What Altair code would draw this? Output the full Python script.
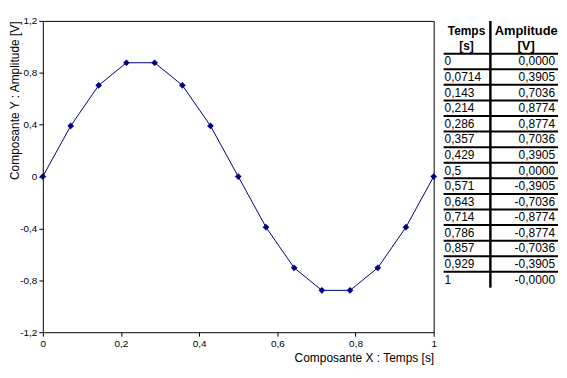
import altair as alt
import pandas as pd

# ---- data ----
times = [0, 0.0714, 0.143, 0.214, 0.286, 0.357, 0.429, 0.5,
         0.571, 0.643, 0.714, 0.786, 0.857, 0.929, 1]
amps = [0.0, 0.3905, 0.7036, 0.8774, 0.8774, 0.7036, 0.3905, 0.0,
        -0.3905, -0.7036, -0.8774, -0.8774, -0.7036, -0.3905, -0.0]
time_labels = ["0", "0,0714", "0,143", "0,214", "0,286", "0,357", "0,429", "0,5",
               "0,571", "0,643", "0,714", "0,786", "0,857", "0,929", "1"]
amp_labels = ["0,0000", "0,3905", "0,7036", "0,8774", "0,8774", "0,7036", "0,3905",
              "0,0000", "-0,3905", "-0,7036", "-0,8774", "-0,8774", "-0,7036",
              "-0,3905", "-0,0000"]
x_ticks = [0, 0.2, 0.4, 0.6, 0.8, 1]
y_ticks = [-1.2, -0.8, -0.4, 0, 0.4, 0.8, 1.2]
header_time = ["Temps", "[s]"]
header_amp = ["Amplitude", "[V]"]
header_pos = [-1.45, -0.5]

NAVY = "#000080"
FONT = "Liberation Sans"
LAB = "replace(replace(format(datum.value, '~g'), '.', ','), '\u2212', '-')"

df = pd.DataFrame({"t": times, "a": amps})

axis_common = dict(grid=False, domain=False, ticks=True, tickSize=4, tickColor="black",
                   labelFont=FONT, labelFontSize=10, labelColor="black", labelPadding=2,
                   labelFlush=False, labelExpr=LAB,
                   titleFont=FONT, titleFontSize=12, titleFontWeight="normal",
                   titleColor="black", titleAnchor="end")

xenc = alt.X("t:Q", scale=alt.Scale(domain=[0, 1], nice=False, zero=False),
             axis=alt.Axis(values=x_ticks, title="Composante X : Temps [s]",
                           titlePadding=4, **axis_common))
yenc = alt.Y("a:Q", scale=alt.Scale(domain=[-1.2, 1.2], nice=False, zero=False),
             axis=alt.Axis(values=y_ticks, title="Composante Y : Amplitude [V]",
                           titlePadding=-2, **axis_common))

base = alt.Chart(df).encode(x=xenc, y=yenc)
line = base.mark_line(color=NAVY, strokeWidth=1)
pts = base.mark_point(shape="diamond", filled=True, color=NAVY, opacity=1, size=45)
plot = alt.layer(line, pts).properties(
    width=393, height=313,
    view=alt.ViewBackground(stroke="black", strokeWidth=1))

# ---- table ----
rows = list(range(len(time_labels)))
tdf = pd.DataFrame({"row": rows, "time": time_labels, "amp": amp_labels})
hdf = pd.DataFrame({"pos": header_pos, "time": header_time, "amp": header_amp})
yscale = alt.Scale(domain=[-2.1, 15], reverse=True, nice=False, zero=False)
TH = 268
TW = 116

tbase = alt.Chart(tdf).transform_calculate(mid="datum.row + 0.5")
t_time = tbase.mark_text(align="left", baseline="middle", font=FONT, fontSize=12,
                         color="black").encode(
    x=alt.value(2), y=alt.Y("mid:Q", scale=yscale, axis=None), text="time:N")
t_amp = tbase.mark_text(align="right", baseline="middle", font=FONT, fontSize=12,
                        color="black").encode(
    x=alt.value(113), y=alt.Y("mid:Q", scale=yscale, axis=None), text="amp:N")
t_rules = alt.Chart(tdf).mark_rule(color="black", strokeWidth=2).encode(
    y=alt.Y("row:Q", scale=yscale, axis=None), x=alt.value(1), x2=alt.value(TW))
h_time = alt.Chart(hdf).mark_text(align="center", baseline="middle", font=FONT,
                                  fontSize=12, fontWeight="bold", color="black").encode(
    x=alt.value(24), y=alt.Y("pos:Q", scale=yscale, axis=None), text="time:N")
h_amp = alt.Chart(hdf).mark_text(align="center", baseline="middle", font=FONT,
                                 fontSize=13, fontWeight="bold", color="black").encode(
    x=alt.value(84), y=alt.Y("pos:Q", scale=yscale, axis=None), text="amp:N")
divider = alt.Chart(hdf).mark_rule(color="black", strokeWidth=2).encode(
    x=alt.value(48), y=alt.value(0), y2=alt.value(TH))

table = alt.layer(t_rules, divider, t_time, t_amp, h_time, h_amp).properties(
    width=TW, height=TH,
    view=alt.ViewBackground(stroke="transparent", strokeWidth=0))

chart = alt.hconcat(plot, table, spacing=9, bounds="flush").properties(
    padding={"left": 0, "top": 6, "right": 0, "bottom": 0}
).configure(background="white")

chart.save("out.html", embed_options={"renderer": "svg", "actions": False})
